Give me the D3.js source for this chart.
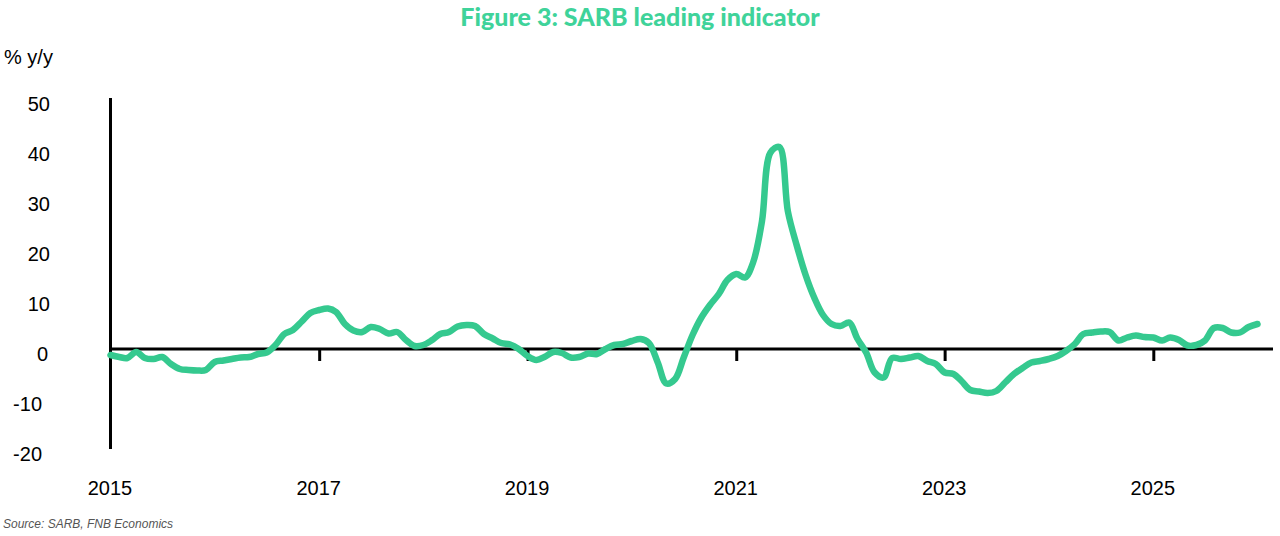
<!DOCTYPE html>
<html>
<head>
<meta charset="utf-8" />
<title>SARB leading indicator</title>
<style>
html, body {
    margin: 0;
    padding: 0;
    background: #fff;
}
#chart {
    width: 1280px;
    height: 536px;
}
.tick text {
    font-family: "Liberation Sans", Arial, sans-serif;
    font-size: 20px;
    fill: #000;
}
</style>
</head>
<body>
<div id="chart"></div>
<script src="https://cdnjs.cloudflare.com/ajax/libs/d3/7.8.5/d3.min.js"></script>
<script>
// monthly, Jan 2015 .. Jan 2026 (% y/y)
var firstMonth = "2015-01"
var leading = [
    -1.2, -1.6, -1.8, -0.6, -1.8, -2.0, -1.6, -3.0, -4.0, -4.2, -4.3, -4.2,
    -2.6, -2.3, -2.0, -1.7, -1.6, -1.0, -0.7, 0.8, 3.0, 3.8, 5.5, 7.2,
    7.8, 8.1, 7.4, 5.0, 3.7, 3.4, 4.4, 4.0, 3.1, 3.4, 1.8, 0.6,
    0.8, 1.8, 3.0, 3.4, 4.5, 4.8, 4.6, 3.0, 2.1, 1.2, 0.9, 0.0,
    -1.4, -2.2, -1.6, -0.6, -0.8, -1.7, -1.6, -0.9, -1.0, 0.0, 0.8, 1.0,
    1.6, 2.0, 1.2, -2.7, -6.9, -6.0, -1.7, 2.8, 6.3, 8.8, 11.0, 13.8,
    15.0, 14.3, 17.3, 25.5, 39.3, 40.4, 27.5, 20.7, 14.8, 10.3, 6.8, 5.0,
    4.6, 5.3, 2.1, -0.7, -4.7, -5.7, -1.8, -2.0, -1.7, -1.4, -2.4, -3.0,
    -4.7, -5.0, -6.4, -8.2, -8.5, -8.8, -8.4, -6.7, -5.0, -3.8, -2.7, -2.4,
    -2.0, -1.4, -0.4, 1.0, 3.0, 3.3, 3.5, 3.4, 1.7, 2.3, 2.7, 2.4,
    2.3, 1.7, 2.3, 1.8, 0.7, 0.8, 1.7, 4.2, 4.2, 3.3, 3.3, 4.4,
    5.0
]
var yTicks = [-20, -10, 0, 10, 20, 30, 40, 50]
var xTickYears = [2015, 2017, 2019, 2021, 2023, 2025]

var green = "#35c98f"

var parseMonth = d3.timeParse("%Y-%m")
var start = parseMonth(firstMonth)
var data = leading.map(function(v, i) {
    return {date: d3.timeMonth.offset(start, i), value: v}
})

var svg = d3.select("#chart").append("svg")
    .attr("width", 1280)
    .attr("height", 536)

var x = d3.scaleTime()
    .domain([new Date(2015, 0, 1), new Date(2026, 0, 1)])
    .range([110.5, 1257.5])

var y = d3.scaleLinear()
    .domain([-20, 50])
    .range([449, 99])

// title
svg.append("text")
    .attr("x", 640)
    .attr("y", 26)
    .attr("text-anchor", "middle")
    .style("font-family", "Lato, 'Open Sans', sans-serif")
    .style("font-weight", "900")
    .style("font-size", "25px")
    .style("fill", "#3fd39a")
    .text("Figure 3: SARB leading indicator")

svg.append("text")
    .attr("x", 4)
    .attr("y", 64)
    .style("font-family", "'Liberation Sans', Arial, sans-serif")
    .style("font-size", "20px")
    .text("% y/y")

// y axis labels (no line from the axis itself)
var yAxis = svg.append("g")
    .attr("transform", "translate(50,5)")
    .call(d3.axisLeft(y).tickValues(yTicks).tickSize(0).tickPadding(0)
        .tickFormat(function(d) { return String(d) }))
yAxis.select(".domain").remove()
yAxis.selectAll(".tick text")
    .attr("dx", function(d) { return d < 0 ? -8 : (d === 0 ? -2 : 0) })

svg.append("line")
    .attr("x1", x(new Date(2015, 0, 1)))
    .attr("x2", x(new Date(2015, 0, 1)))
    .attr("y1", y(50) - 1)
    .attr("y2", y(-20))
    .attr("stroke", "#000")
    .attr("stroke-width", 3)

// x axis at zero
var xAxis = svg.append("g")
    .attr("transform", "translate(0," + y(0) + ")")
    .call(d3.axisBottom(x)
        .tickValues(xTickYears.slice(1).map(function(yr) { return new Date(yr, 0, 1) }))
        .tickSize(12)
        .tickFormat(""))
xAxis.select(".domain").remove()
xAxis.selectAll(".tick line")
    .attr("stroke", "#000")
    .attr("stroke-width", 3)

svg.append("line")
    .attr("x1", x(new Date(2015, 0, 1)))
    .attr("x2", 1273)
    .attr("y1", y(0))
    .attr("y2", y(0))
    .attr("stroke", "#000")
    .attr("stroke-width", 3)

// year labels along the bottom
var xLabels = svg.append("g")
    .attr("transform", "translate(-1,488)")
    .call(d3.axisBottom(x)
        .tickValues(xTickYears.map(function(yr) { return new Date(yr, 0, 1) }))
        .tickSize(0)
        .tickPadding(0)
        .tickFormat(d3.timeFormat("%Y")))
xLabels.select(".domain").remove()
xLabels.selectAll(".tick text").attr("dy", "0.35em")

var line = d3.line()
    .x(function(d) { return x(d.date) })
    .y(function(d) { return y(d.value) })
    .curve(d3.curveCatmullRom.alpha(0.5))

svg.append("path")
    .datum(data)
    .attr("d", line)
    .attr("fill", "none")
    .attr("stroke", green)
    .attr("stroke-width", 6.5)
    .attr("stroke-linecap", "round")
    .attr("stroke-linejoin", "round")

svg.append("text")
    .attr("x", 3)
    .attr("y", 528)
    .style("font-family", "'Liberation Sans', Arial, sans-serif")
    .style("font-style", "italic")
    .style("font-size", "12px")
    .style("fill", "#555")
    .text("Source: SARB, FNB Economics")
</script>
</body>
</html>
